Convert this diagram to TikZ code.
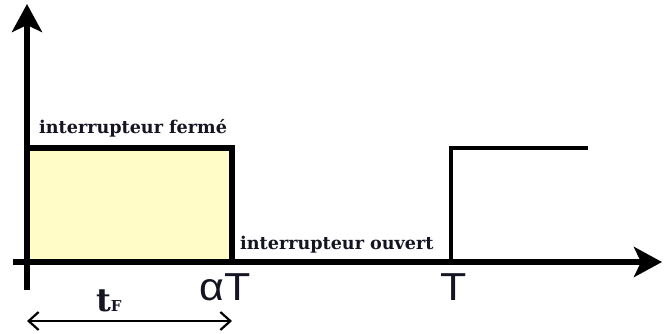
\documentclass[tikz,border=0pt]{standalone}
\usepackage{fontspec}
\setmainfont{DejaVu Serif}
\newfontfamily\lsans{Liberation Sans}
\usetikzlibrary{arrows.meta}
\definecolor{fillyel}{RGB}{255,252,200}
\definecolor{txt}{RGB}{20,20,35}
\tikzset{
  axisline/.style={line width=6.5pt,-{Stealth[length=28pt,width=30pt,inset=7pt]}},
  lbl/.style={font=\fontsize{17.6}{18}\selectfont\bfseries,text=txt,inner sep=0pt},
  tick/.style={font=\lsans\fontsize{39}{39}\selectfont,text=txt,inner sep=0pt,xscale=1.1},
}
\begin{document}
\begin{tikzpicture}[x=1pt,y=-1pt]
\useasboundingbox (0,0) rectangle (667,333);
\fill[fillyel] (27,148) rectangle (232,262);
\coordinate (ybot) at (27,290);
\coordinate (ytop) at (27,4);
\coordinate (xleft) at (13,262);
\coordinate (xright) at (662,262);
\coordinate (r1) at (27,148);
\coordinate (r2) at (232,148);
\coordinate (r3) at (232,262);
\coordinate (p1) at (451,262);
\coordinate (p2) at (451,148);
\coordinate (p3) at (588,148);
\draw[line width=6pt] (r1) -- (r2) -- (r3);
\draw[line width=3.5pt] (p1) -- (p2) -- (p3);
\draw[axisline] (xleft) -- (xright);
\draw[axisline] (ybot) -- (ytop);
\node[lbl,anchor=base west] (ferme) at (39,133) {interrupteur fermé};
\node[lbl,anchor=base west] (ouvert) at (240,249) {interrupteur ouvert};
\node[tick,anchor=base] (aT) at (225,300) {αT};
\node[tick,anchor=base] (T) at (454,300) {T};
\node[anchor=base west,inner sep=0pt,text=txt] (tF) at (96,311) {\fontsize{32}{32}\selectfont\bfseries t\fontsize{15}{15}\selectfont F};
\coordinate (d1) at (27,321);
\coordinate (d2) at (232,321);
\draw[line width=2.2pt,{Straight Barb[length=10pt,width=18pt]}-{Straight Barb[length=10pt,width=18pt]}] (d1) -- (d2);
\end{tikzpicture}
\end{document}
